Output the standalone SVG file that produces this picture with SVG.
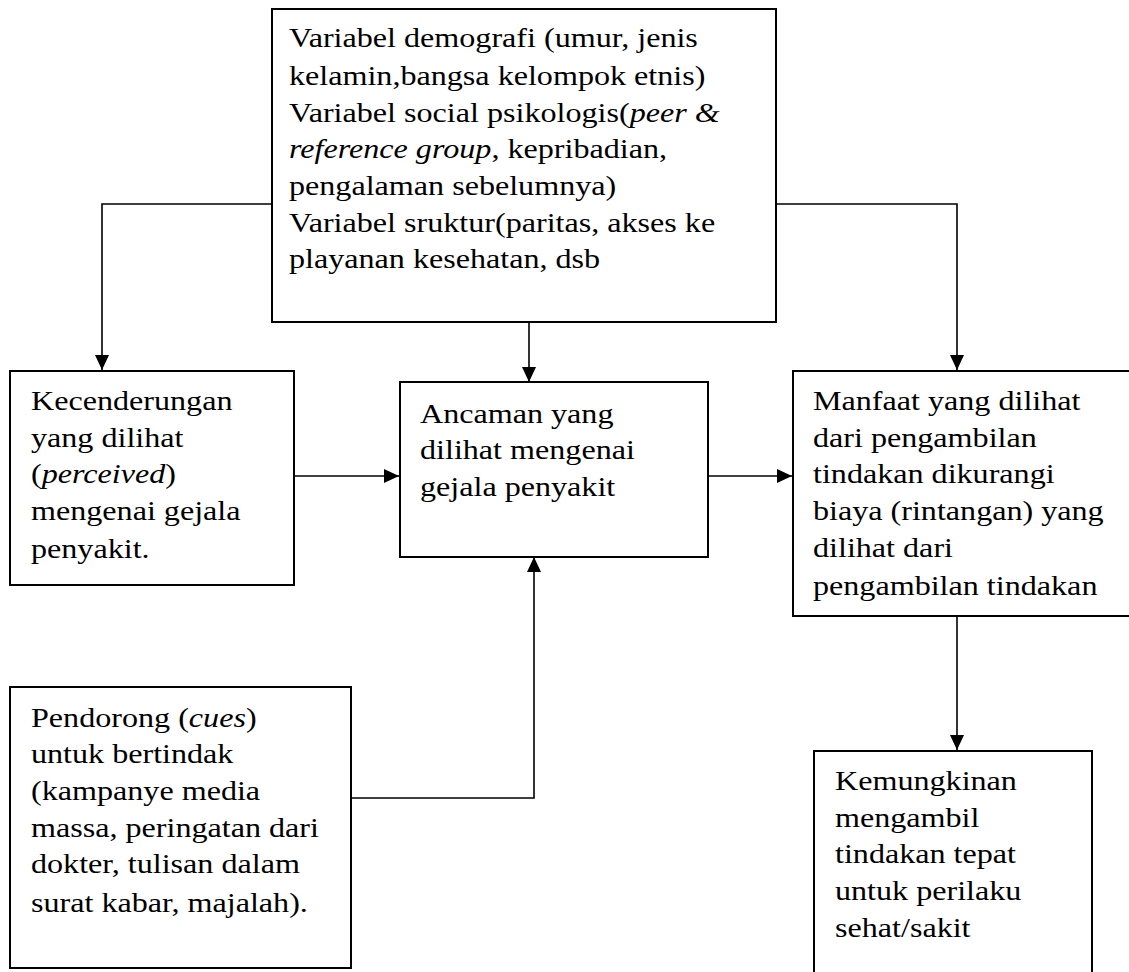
<svg xmlns="http://www.w3.org/2000/svg" width="1129" height="972" viewBox="0 0 1129 972">
<style>
.box{fill:#fff;stroke:#000;stroke-width:2}
.t{font-family:'Liberation Serif','Times New Roman','DejaVu Serif',serif;font-size:27px;fill:#000}
.i{font-style:italic}
.c{fill:none;stroke:#000;stroke-width:1.6}
</style>
<defs>
<marker id="ah" markerWidth="15" markerHeight="14" refX="15" refY="7" orient="auto" markerUnits="userSpaceOnUse">
<path d="M0,0 L15,7 L0,14 Z" fill="#000"/>
</marker>
</defs>
<rect width="1129" height="972" fill="#fff"/>
<g id="connectors">
<polyline class="c" points="271,204 102,204 102,370" marker-end="url(#ah)"/>
<polyline class="c" points="776,204 957,204 957,370" marker-end="url(#ah)"/>
<line class="c" x1="529" y1="322" x2="529" y2="382" marker-end="url(#ah)"/>
<line class="c" x1="295" y1="476" x2="399" y2="476" marker-end="url(#ah)"/>
<line class="c" x1="708" y1="476" x2="792" y2="476" marker-end="url(#ah)"/>
<polyline class="c" points="351,798 534,798 534,557" marker-end="url(#ah)"/>
<line class="c" x1="957" y1="616" x2="957" y2="750" marker-end="url(#ah)"/>
</g>
<g id="top">
<rect class="box" x="272" y="9" width="504" height="313"/>
<text class="t" font-family="Liberation Serif, serif" transform="translate(289,0) scale(1.19,1)">
<tspan x="0" y="47">Variabel demografi (umur, jenis</tspan>
<tspan x="0" y="85">kelamin,bangsa kelompok etnis)</tspan>
<tspan x="0" y="122">Variabel social psikologis(<tspan class="i">peer &amp;</tspan></tspan>
<tspan x="0" y="158" class="i">reference group</tspan><tspan>, kepribadian,</tspan>
<tspan x="0" y="195">pengalaman sebelumnya)</tspan>
<tspan x="0" y="232">Variabel sruktur(paritas, akses ke</tspan>
<tspan x="0" y="268">playanan kesehatan, dsb</tspan>
</text>
</g>
<g id="kecenderungan">
<rect class="box" x="10" y="371" width="284" height="214"/>
<text class="t" font-family="Liberation Serif, serif" transform="translate(31,0) scale(1.19,1)">
<tspan x="0" y="410">Kecenderungan</tspan>
<tspan x="0" y="447">yang dilihat</tspan>
<tspan x="0" y="483">(</tspan><tspan class="i">perceived</tspan><tspan>)</tspan>
<tspan x="0" y="520">mengenai gejala</tspan>
<tspan x="0" y="558">penyakit.</tspan>
</text>
</g>
<g id="ancaman">
<rect class="box" x="400" y="382" width="308" height="175"/>
<text class="t" font-family="Liberation Serif, serif" transform="translate(420,0) scale(1.19,1)">
<tspan x="0" y="423">Ancaman yang</tspan>
<tspan x="0" y="459">dilihat mengenai</tspan>
<tspan x="0" y="496">gejala penyakit</tspan>
</text>
</g>
<g id="manfaat">
<rect class="box" x="793" y="371" width="340" height="245"/>
<text class="t" font-family="Liberation Serif, serif" transform="translate(813,0) scale(1.19,1)">
<tspan x="0" y="410">Manfaat yang dilihat</tspan>
<tspan x="0" y="447">dari pengambilan</tspan>
<tspan x="0" y="483">tindakan dikurangi</tspan>
<tspan x="0" y="520">biaya (rintangan) yang</tspan>
<tspan x="0" y="557">dilihat dari</tspan>
<tspan x="0" y="595">pengambilan tindakan</tspan>
</text>
</g>
<g id="pendorong">
<rect class="box" x="10" y="687" width="341" height="281"/>
<text class="t" font-family="Liberation Serif, serif" transform="translate(31,0) scale(1.19,1)">
<tspan x="0" y="727">Pendorong (</tspan><tspan class="i">cues</tspan><tspan>)</tspan>
<tspan x="0" y="763">untuk bertindak</tspan>
<tspan x="0" y="800">(kampanye media</tspan>
<tspan x="0" y="837">massa, peringatan dari</tspan>
<tspan x="0" y="873">dokter, tulisan dalam</tspan>
<tspan x="0" y="912">surat kabar, majalah).</tspan>
</text>
</g>
<g id="kemungkinan">
<path class="box" d="M814,975 L814,751 L1092,751 L1092,975"/>
<text class="t" font-family="Liberation Serif, serif" transform="translate(835,0) scale(1.19,1)">
<tspan x="0" y="790">Kemungkinan</tspan>
<tspan x="0" y="827">mengambil</tspan>
<tspan x="0" y="863">tindakan tepat</tspan>
<tspan x="0" y="900">untuk perilaku</tspan>
<tspan x="0" y="937">sehat/sakit</tspan>
</text>
</g>
</svg>
